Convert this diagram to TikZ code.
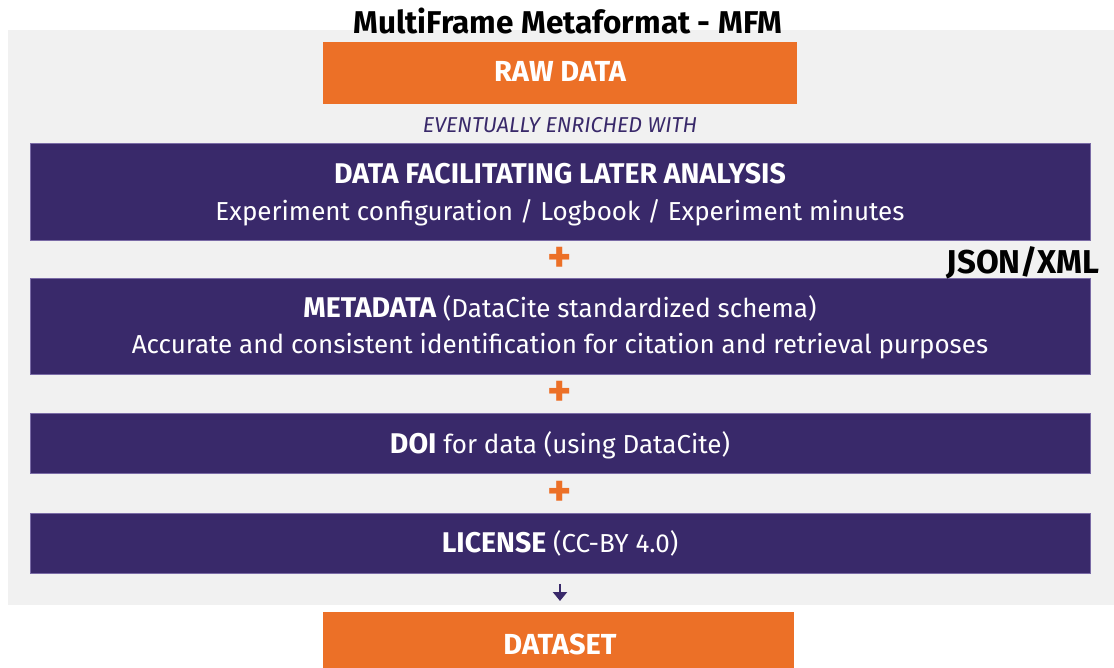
\documentclass[tikz,border=0pt]{standalone}
\usepackage{fontspec}
\setmainfont{Fira Sans}
\usetikzlibrary{arrows.meta}
\definecolor{mfmorange}{HTML}{EC7027}
\definecolor{mfmpurple}{HTML}{39296A}
\definecolor{mfmedge}{HTML}{7A6BA6}
\definecolor{mfmgray}{HTML}{F1F1F1}
\newcommand{\bigbold}[1]{{\fontsize{28.5}{35}\selectfont\bfseries #1}}
\tikzset{
  x=1pt, y=-1pt,
  orangebox/.style={fill=mfmorange, draw=none, minimum width=474pt, minimum height=62pt,
    inner sep=0pt, anchor=north west},
  purplebox/.style={fill=mfmpurple, draw=mfmedge, line width=0.8pt, minimum width=1060pt,
    inner sep=0pt, anchor=north west},
  boxtext/.style={anchor=base, inner sep=0pt, text=white, font=\fontsize{26}{36}\selectfont},
  orangetext/.style={anchor=base, inner sep=0pt, text=white, font=\fontsize{29}{32}\selectfont\bfseries},
  plussign/.style={text=mfmorange, font=\fontsize{46}{46}\selectfont\bfseries, inner sep=0pt},
  flowarrow/.style={draw=mfmpurple, line width=2.6pt, -{Triangle[length=9pt,width=14pt]}},
}
\begin{document}
\begin{tikzpicture}
\useasboundingbox (0,0) rectangle (1114,668);
\fill[white] (0,0) rectangle (1114,668);
\fill[mfmgray] (8,30) rectangle (1114,605);
\node[anchor=base, inner sep=0pt, font=\fontsize{31.5}{34}\selectfont\bfseries, text=black] (title) at (568,34) {MultiFrame Metaformat - MFM};
% boxes
\node[orangebox] (raw) at (323,42) {};
\node[purplebox, minimum height=97pt] (analysis) at (30,143) {};
\node[purplebox, minimum height=96pt] (metadata) at (30,278) {};
\node[purplebox, minimum height=60pt] (doi) at (30,413) {};
\node[purplebox, minimum height=60pt] (license) at (30,513) {};
\node[orangebox, minimum width=471pt, minimum height=66pt] (dataset) at (323,612) {};
% texts
\node[orangetext] (rawtext) at (560,82) {RAW DATA};
\node[anchor=base, inner sep=0pt, text=mfmpurple, font=\fontsize{21.5}{24}\selectfont\itshape] (enriched) at (560,133) {EVENTUALLY ENRICHED WITH};
\node[boxtext] (analysishead) at (560,184) {\bigbold{DATA FACILITATING LATER ANALYSIS}};
\node[boxtext] (analysisbody) at (560,221) {Experiment configuration / Logbook / Experiment minutes};
\node[boxtext] (metadatahead) at (560,318) {\bigbold{METADATA} (DataCite standardized schema)};
\node[boxtext] (metadatabody) at (560,353) {Accurate and consistent identification for citation and retrieval purposes};
\node[boxtext] (doitext) at (560,453) {\bigbold{DOI} for data (using DataCite)};
\node[boxtext] (licensetext) at (560,552) {\bigbold{LICENSE} (CC-BY 4.0)};
\node[orangetext] (datasettext) at (560,654) {DATASET};
\node[anchor=base, inner sep=0pt, font=\fontsize{33}{36}\selectfont\bfseries, text=black] (json) at (1023,274) {JSON/XML};
% plus signs
\node[plussign] (plus1) at (560,260) {+};
\node[plussign] (plus2) at (560,394) {+};
\node[plussign] (plus3) at (560,494) {+};
% arrow
\draw[flowarrow, shorten <=10pt, shorten >=11pt] (license.south -| plus3) -- (dataset.north -| plus3);
\end{tikzpicture}
\end{document}
